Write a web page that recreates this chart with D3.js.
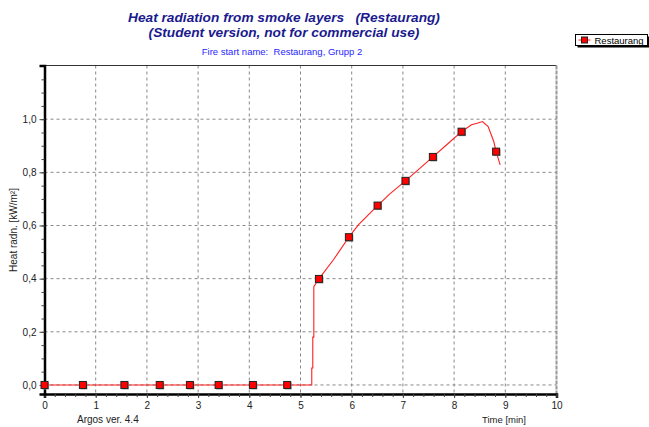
<!DOCTYPE html>
<html>
<head>
<meta charset="utf-8">
<script src="https://cdn.jsdelivr.net/npm/d3@7"></script>
<style>
  body { margin: 0; background: #fff; }
  text { font-family: "Liberation Sans", Arial, sans-serif; }
</style>
</head>
<body>
<div id="scene"></div>
<script>
// curve of the smoke layer heat radiation (min, kW/m2)
const lineTimes = [0, 5.22, 5.22, 5.24, 5.24, 5.26, 5.26, 5.36, 5.64, 5.945, 6.13, 6.505, 6.745, 7.05, 7.33, 7.585, 7.85, 8.145, 8.34, 8.45, 8.555, 8.665, 8.775, 8.82, 8.9];
const lineValues = [0, 0, 0.064, 0.064, 0.18, 0.18, 0.37, 0.399, 0.47, 0.556, 0.602, 0.675, 0.719, 0.768, 0.815, 0.858, 0.903, 0.953, 0.979, 0.985, 0.991, 0.972, 0.916, 0.878, 0.828];

// marker points on the curve
const markerTimes = [0, 0.75, 1.56, 2.25, 2.84, 3.40, 4.07, 4.74, 5.36, 5.945, 6.505, 7.05, 7.585, 8.145, 8.82];
const markerValues = [0, 0, 0, 0, 0, 0, 0, 0, 0.399, 0.556, 0.675, 0.768, 0.858, 0.953, 0.878];

const xTicks = [0, 1, 2, 3, 4, 5, 6, 7, 8, 9, 10];
const yTicks = [0, 0.2, 0.4, 0.6, 0.8, 1.0];

const titleLines = ["Heat radiation from smoke layers   (Restaurang)", "(Student version, not for commercial use)"];
const subTitle = "Fire start name:  Restaurang, Grupp 2";
const seriesName = "Restaurang";

const W = 649, H = 427;
const plotL = 44.5, plotR = 556.5, plotT = 65.5, plotB = 394;

const svg = d3.select("#scene").append("svg")
  .attr("width", W)
  .attr("height", H);

const x = d3.scaleLinear().domain([0, 10]).range([plotL, plotR]);
const y = d3.scaleLinear().domain([-0.034, 1.202]).range([plotB, plotT]);

// titles
svg.selectAll("text.title")
  .data(titleLines)
  .enter().append("text")
  .attr("class", "title")
  .attr("x", 284)
  .attr("y", (d, i) => 22 + i * 15)
  .attr("text-anchor", "middle")
  .style("font-size", "13.7px")
  .style("font-weight", "bold")
  .style("font-style", "italic")
  .style("white-space", "pre")
  .style("fill", "#1a1a8e")
  .text(d => d);

svg.append("text")
  .attr("x", 282)
  .attr("y", 55)
  .attr("text-anchor", "middle")
  .style("font-size", "9.5px")
  .style("white-space", "pre")
  .style("fill", "#1f1fff")
  .text(subTitle);

// grid
svg.selectAll("line.vgrid")
  .data(xTicks.slice(1, 10))
  .enter().append("line")
  .attr("x1", d => x(d)).attr("x2", d => x(d))
  .attr("y1", plotT).attr("y2", plotB)
  .style("stroke", "#888")
  .style("stroke-dasharray", "3,3");

svg.selectAll("line.hgrid")
  .data(yTicks)
  .enter().append("line")
  .attr("x1", plotL).attr("x2", plotR)
  .attr("y1", d => y(d)).attr("y2", d => y(d))
  .style("stroke", "#888")
  .style("stroke-dasharray", "3,3");

// frame
svg.append("line")
  .attr("x1", plotL).attr("x2", plotR)
  .attr("y1", plotT).attr("y2", plotT)
  .style("stroke", "#333");
svg.append("line")
  .attr("x1", plotR).attr("x2", plotR)
  .attr("y1", plotT).attr("y2", plotB)
  .style("stroke", "#999")
  .style("stroke-width", 2)
  .style("stroke-dasharray", "4,1");

// axes
const xAxis = svg.append("g")
  .attr("transform", `translate(0,${plotB})`)
  .call(d3.axisBottom(x).tickValues(xTicks).tickFormat(d3.format("d")).tickSize(4).tickPadding(4));
const xMinor = svg.append("g")
  .attr("transform", `translate(0,${plotB})`)
  .call(d3.axisBottom(x).ticks(50).tickFormat("").tickSize(3));
xMinor.select(".domain").remove();

const yFmt = d => d3.format(".1f")(d).replace(".", ",");
const yAxis = svg.append("g")
  .attr("transform", `translate(${plotL},0)`)
  .call(d3.axisLeft(y).tickValues(yTicks).tickFormat(yFmt).tickSize(5).tickPadding(3));
const yMinor = svg.append("g")
  .attr("transform", `translate(${plotL},0)`)
  .call(d3.axisLeft(y).tickValues(d3.range(0, 1.2, 0.05)).tickFormat("").tickSize(3));
yMinor.select(".domain").remove();

[xAxis, yAxis].forEach(g => {
  g.select(".domain").style("stroke", "#000").style("stroke-width", 2.5);
  g.selectAll("text").style("font-size", "10px").style("fill", "#222")
    .style("font-family", "'Liberation Sans', Arial, sans-serif");
});
svg.selectAll(".tick line").style("stroke", "#444");

// axis titles
svg.append("text")
  .attr("transform", "translate(17,230) rotate(-90)")
  .attr("text-anchor", "middle")
  .style("font-size", "10px")
  .style("fill", "#222")
  .text("Heat radn. [kW/m²]");

svg.append("text")
  .attr("x", 504)
  .attr("y", 423)
  .attr("text-anchor", "middle")
  .style("font-size", "9.5px")
  .style("fill", "#222")
  .text("Time [min]");

svg.append("text")
  .attr("x", 77)
  .attr("y", 423)
  .style("font-size", "10px")
  .style("fill", "#222")
  .text("Argos ver. 4.4");

// series
const lineData = lineTimes.map((t, i) => ({ t: t, v: lineValues[i] }));
const markerData = markerTimes.map((t, i) => ({ t: t, v: markerValues[i] }));

svg.append("path")
  .datum(lineData)
  .attr("d", d3.line().x(d => x(d.t)).y(d => y(d.v)))
  .style("fill", "none")
  .style("stroke", "#ff2020")
  .style("stroke-width", 1.1);

const ms = 7;
svg.selectAll("rect.shadow")
  .data(markerData)
  .enter().append("rect")
  .attr("x", d => x(d.t) - ms / 2 + 1)
  .attr("y", d => y(d.v) - ms / 2 + 1)
  .attr("width", ms).attr("height", ms)
  .style("fill", "#999");

svg.selectAll("rect.marker")
  .data(markerData)
  .enter().append("rect")
  .attr("x", d => x(d.t) - ms / 2)
  .attr("y", d => y(d.v) - ms / 2)
  .attr("width", ms).attr("height", ms)
  .style("fill", "#ff0000")
  .style("stroke", "#222")
  .style("stroke-width", 1);

// legend
const lg = svg.append("g").attr("transform", "translate(575.5,34.5)");
lg.append("rect").attr("x", 2).attr("y", 2).attr("width", 72).attr("height", 11).style("fill", "#000");
lg.append("rect").attr("width", 72).attr("height", 11).style("fill", "#fff").style("stroke", "#000");
lg.append("line").attr("x1", 3).attr("x2", 15).attr("y1", 5.5).attr("y2", 5.5).style("stroke", "#ff2020");
lg.append("rect").attr("x", 6).attr("y", 2.5).attr("width", 6).attr("height", 6)
  .style("fill", "#ff0000").style("stroke", "#222");
lg.append("text").attr("x", 19).attr("y", 9).style("font-size", "9.5px").style("fill", "#000").text(seriesName);
</script>
</body>
</html>
